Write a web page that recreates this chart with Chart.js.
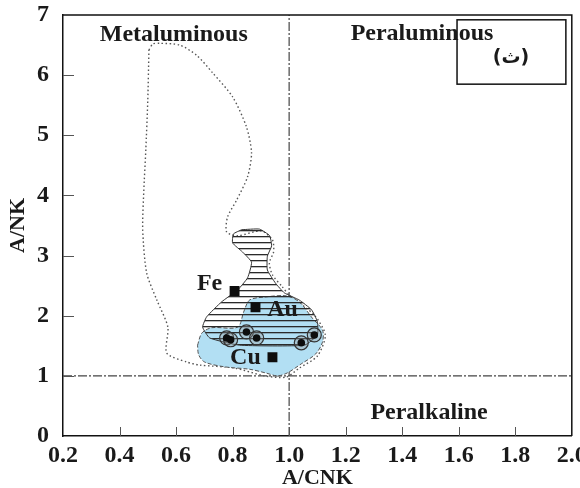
<!DOCTYPE html>
<html>
<head>
<meta charset="utf-8">
<script src="https://cdn.jsdelivr.net/npm/chart.js@4.4.0/dist/chart.umd.min.js"></script>
<style>
  html, body { margin: 0; padding: 0; background: #fff; }
  #wrap { width: 580px; height: 488px; }
</style>
</head>
<body>
<div id="wrap"><canvas id="c" width="580" height="488"></canvas></div>
<script>
// Shand's index diagram: A/CNK vs A/NK
const xTickValues = [0.2, 0.4, 0.6, 0.8, 1.0, 1.2, 1.4, 1.6, 1.8, 2.0];
const yTickValues = [0, 1, 2, 3, 4, 5, 6, 7];

// Boundary lines A/CNK = 1 and A/NK = 1
const boundaryAcnk = 1.0;
const boundaryAnk = 1.0;

// Dotted envelope of the reference granitoid field [A/CNK, A/NK]
const envelopeField = [
  [0.504, 6.42], [0.518, 6.52], [0.542, 6.53], [0.613, 6.50], [0.673, 6.33],
  [0.729, 6.04], [0.800, 5.64], [0.849, 5.14], [0.867, 4.71], [0.853, 4.31],
  [0.814, 3.92], [0.782, 3.64], [0.779, 3.39], [0.818, 3.33], [0.902, 3.41],
  [0.941, 3.26], [0.945, 3.06], [0.930, 2.88], [0.941, 2.68], [0.976, 2.48],
  [1.001, 2.34], [1.089, 2.01], [1.128, 1.68], [1.100, 1.33], [1.036, 1.13],
  [0.990, 0.98], [0.913, 1.00], [0.807, 1.13], [0.683, 1.18], [0.638, 1.23],
  [0.567, 1.38], [0.571, 1.81], [0.532, 2.26], [0.496, 2.71], [0.482, 3.43],
  [0.486, 4.09], [0.493, 4.76], [0.500, 5.59], [0.504, 6.42]
];

// Hatched field
const hatchedField = [
  [0.832, 3.43], [0.895, 3.44], [0.931, 3.33], [0.938, 3.16], [0.923, 2.99],
  [0.923, 2.76], [0.952, 2.54], [0.983, 2.38], [1.036, 2.26], [1.079, 2.10],
  [1.100, 1.90], [1.100, 1.68], [1.054, 1.51], [0.825, 1.51], [0.719, 1.63],
  [0.694, 1.81], [0.708, 1.98], [0.761, 2.23], [0.818, 2.43], [0.853, 2.63],
  [0.867, 2.89], [0.835, 3.06], [0.800, 3.21], [0.803, 3.36], [0.832, 3.43]
];

// Shaded (blue) field
const blueField = [
  [0.676, 1.51], [0.691, 1.71], [0.726, 1.80], [0.818, 1.81], [0.839, 2.06],
  [0.860, 2.26], [0.913, 2.31], [0.990, 2.33], [1.036, 2.23], [1.082, 1.96],
  [1.118, 1.76], [1.118, 1.56], [1.093, 1.36], [1.043, 1.20], [0.994, 1.05],
  [0.959, 1.00], [0.916, 1.05], [0.860, 1.11], [0.772, 1.15], [0.701, 1.23],
  [0.680, 1.35], [0.676, 1.51]
];

// Deposit-type averages
const oreNames = ['Fe', 'Au', 'Cu'];
const oreX = [0.807, 0.881, 0.941];
const oreY = [2.41, 2.14, 1.31];

// Studied samples
const sampleX = [0.779, 0.793, 0.849, 0.885, 1.043, 1.089];
const sampleY = [1.63, 1.60, 1.73, 1.63, 1.55, 1.68];

const toPoints = arr => arr.map(p => ({ x: p[0], y: p[1] }));

// horizontal line pattern for the hatched field
function hatchPattern() {
  const c = document.createElement('canvas');
  c.width = 10; c.height = 6;
  const g = c.getContext('2d');
  g.fillStyle = '#2a2a2a';
  g.fillRect(0, 2, 10, 1.3);
  return g.createPattern(c, 'repeat');
}

const SERIF = "'Liberation Serif', 'Times New Roman', serif";

const decorations = {
  id: 'decorations',
  afterDatasetsDraw(chart) {
    const { ctx, chartArea: a, scales: { x, y } } = chart;
    ctx.save();
    // top and right frame
    ctx.strokeStyle = '#111';
    ctx.lineWidth = 1.5;
    ctx.beginPath();
    ctx.moveTo(a.left, a.top);
    ctx.lineTo(a.right, a.top);
    ctx.lineTo(a.right, a.bottom);
    ctx.stroke();

    // inward tick marks
    ctx.strokeStyle = '#555';
    ctx.lineWidth = 1;
    ctx.beginPath();
    xTickValues.slice(1, -1).forEach(v => {
      const px = Math.round(x.getPixelForValue(v)) + 0.5;
      ctx.moveTo(px, a.bottom);
      ctx.lineTo(px, a.bottom - 9);
    });
    yTickValues.slice(1, -1).forEach(v => {
      const py = Math.round(y.getPixelForValue(v)) + 0.5;
      ctx.moveTo(a.left, py);
      ctx.lineTo(a.left + 11, py);
    });
    ctx.stroke();

    // panel label box
    const bx0 = x.getPixelForValue(1.594), bx1 = x.getPixelForValue(1.979);
    const by0 = y.getPixelForValue(6.92), by1 = y.getPixelForValue(5.85);
    ctx.strokeStyle = '#111';
    ctx.lineWidth = 1.5;
    ctx.strokeRect(bx0, by0, bx1 - bx0, by1 - by0);

    // field names
    ctx.fillStyle = '#1a1a1a';
    ctx.textAlign = 'center';
    ctx.textBaseline = 'middle';
    ctx.font = 'bold 24px ' + SERIF;
    ctx.fillText('Metaluminous', x.getPixelForValue(0.592), y.getPixelForValue(6.67));
    ctx.fillText('Peraluminous', x.getPixelForValue(1.47), y.getPixelForValue(6.68));
    ctx.fillText('Peralkaline', x.getPixelForValue(1.495), y.getPixelForValue(0.38));

    ctx.font = 'bold 19px "DejaVu Sans", "Noto Sans", sans-serif';
    ctx.fillText('(ث)', x.getPixelForValue(1.785), y.getPixelForValue(6.28));

    // deposit labels
    ctx.font = 'bold 24px ' + SERIF;
    const offsets = { Fe: [-25, -7], Au: [27, 3], Cu: [-27, 1] };
    oreNames.forEach((n, i) => {
      const px = x.getPixelForValue(oreX[i]);
      const py = y.getPixelForValue(oreY[i]);
      ctx.fillText(n, px + offsets[n][0], py + offsets[n][1]);
    });
    ctx.restore();
  }
};

const tickFont = { family: SERIF, size: 24, weight: 'bold', lineHeight: 1.0 };

new Chart(document.getElementById('c'), {
  type: 'scatter',
  data: {
    datasets: [
      {
        label: 'samples',
        data: sampleX.map((v, i) => ({ x: v, y: sampleY[i] })),
        pointRadius: 3.8,
        pointBackgroundColor: '#0d0d0d',
        pointBorderWidth: 0,
        order: 1
      },
      {
        label: 'sample rings',
        data: sampleX.map((v, i) => ({ x: v, y: sampleY[i] })),
        pointRadius: 7,
        pointBackgroundColor: 'rgba(150,150,150,0.35)',
        pointBorderColor: '#333',
        pointBorderWidth: 1.2,
        order: 2
      },
      {
        label: 'deposits',
        data: oreX.map((v, i) => ({ x: v, y: oreY[i] })),
        pointStyle: 'rect',
        pointRadius: 7,
        pointBackgroundColor: '#0d0d0d',
        pointBorderWidth: 0,
        order: 3
      },
      {
        label: 'hatched field',
        data: toPoints(hatchedField),
        showLine: true,
        pointRadius: 0,
        tension: 0.15,
        borderColor: '#333',
        borderWidth: 1,
        backgroundColor: hatchPattern(),
        fill: 'shape',
        order: 4
      },
      {
        label: 'blue field',
        data: toPoints(blueField),
        showLine: true,
        pointRadius: 0,
        tension: 0.3,
        borderColor: '#555',
        borderWidth: 1,
        borderDash: [4, 2],
        backgroundColor: 'rgb(178,223,243)',
        fill: 'shape',
        order: 5
      },
      {
        label: 'envelope',
        data: toPoints(envelopeField),
        showLine: true,
        pointRadius: 0,
        tension: 0.25,
        borderColor: '#555',
        borderWidth: 1.4,
        borderDash: [1.5, 2.5],
        fill: false,
        order: 6
      },
      {
        label: 'A/NK = 1',
        data: [{ x: xTickValues[0], y: boundaryAnk }, { x: xTickValues[xTickValues.length - 1], y: boundaryAnk }],
        showLine: true,
        pointRadius: 0,
        borderColor: '#444',
        borderWidth: 1.2,
        borderDash: [9, 2, 2, 2],
        order: 7
      },
      {
        label: 'A/CNK = 1',
        data: [{ x: boundaryAcnk, y: yTickValues[0] }, { x: boundaryAcnk, y: yTickValues[yTickValues.length - 1] }],
        showLine: true,
        pointRadius: 0,
        borderColor: '#444',
        borderWidth: 1.2,
        borderDash: [9, 2, 2, 2],
        order: 8
      }
    ]
  },
  options: {
    responsive: false,
    animation: false,
    devicePixelRatio: 1,
    layout: { padding: { left: 0, right: 7, top: 15, bottom: 0 } },
    plugins: { legend: { display: false }, tooltip: { enabled: false } },
    scales: {
      x: {
        type: 'linear',
        min: 0.2, max: 2.0,
        afterBuildTicks: s => { s.ticks = xTickValues.map(v => ({ value: v })); },
        afterFit: s => { s.height = 52; s.paddingLeft = 0; s.paddingRight = 0; },
        grid: { display: false, drawTicks: false },
        border: { display: true, color: '#111', width: 1.5 },
        ticks: {
          font: tickFont,
          color: '#1a1a1a',
          padding: 8,
          maxRotation: 0,
          autoSkip: false,
          callback: v => Number(v).toFixed(1)
        },
        title: {
          display: true,
          text: 'A/CNK',
          font: { family: SERIF, size: 22, weight: 'bold', lineHeight: 1.0 },
          color: '#1a1a1a',
          padding: { top: 0, bottom: -1 }
        }
      },
      y: {
        type: 'linear',
        min: 0, max: 7,
        afterBuildTicks: s => { s.ticks = yTickValues.map(v => ({ value: v })); },
        afterFit: s => { s.width = 63; s.paddingTop = 0; s.paddingBottom = 0; },
        grid: { display: false, drawTicks: false },
        border: { display: true, color: '#111', width: 1.5 },
        ticks: {
          font: tickFont,
          color: '#1a1a1a',
          padding: 14,
          autoSkip: false,
          callback: v => String(v)
        },
        title: {
          display: true,
          text: 'A/NK',
          font: { family: SERIF, size: 22, weight: 'bold', lineHeight: 1.0 },
          color: '#1a1a1a',
          padding: { top: 7, bottom: 0 }
        }
      }
    }
  },
  plugins: [decorations]
});
</script>
</body>
</html>
